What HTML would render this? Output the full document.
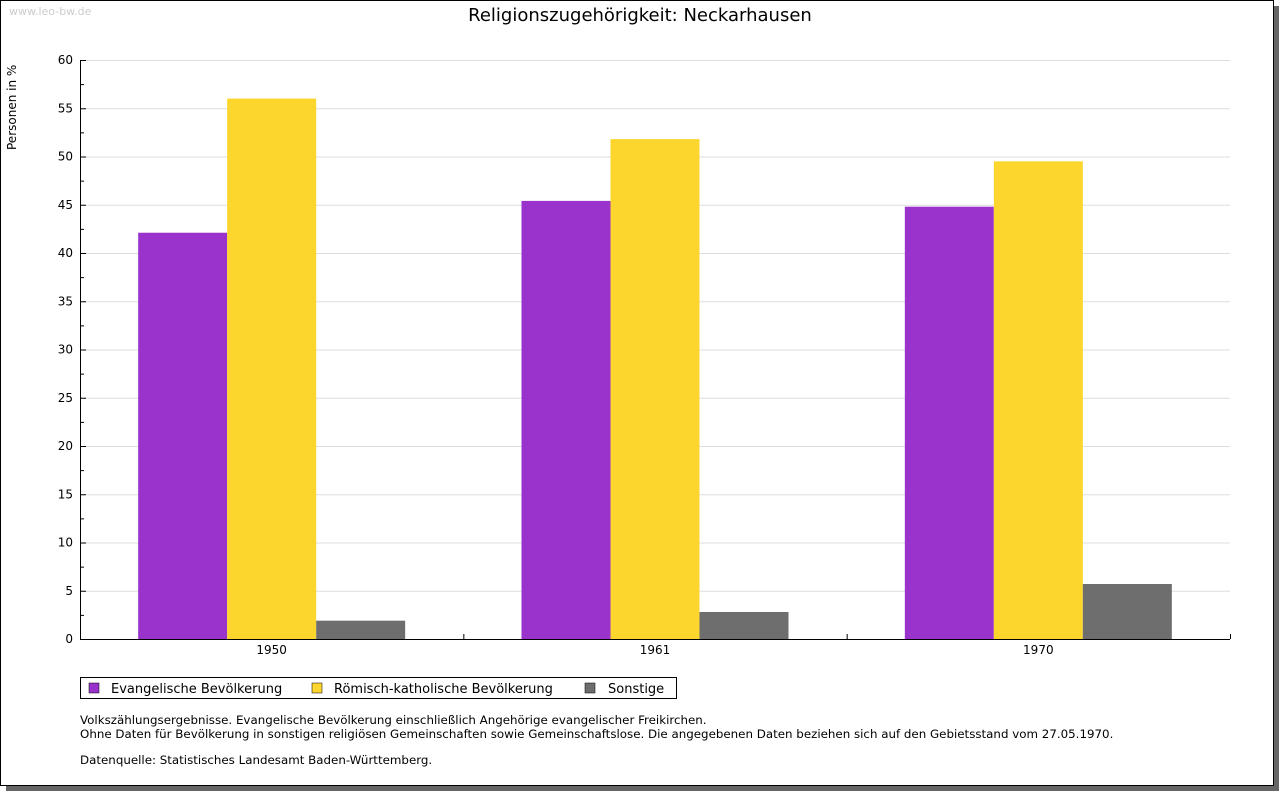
<!DOCTYPE html>
<html><head><meta charset="utf-8"><style>
body{margin:0;background:#fff;}
svg{display:block;font-family:"DejaVu Sans","Liberation Sans",sans-serif;}
</style></head><body>
<svg id="c" width="1280" height="791" xmlns="http://www.w3.org/2000/svg">
<rect x="6" y="6" width="1273" height="785" fill="#666"/>
<rect x="0.5" y="0.5" width="1273" height="785" fill="#fff" stroke="#000"/>
<text x="9" y="15" font-size="11" fill="#ccc">www.leo-bw.de</text>
<text x="640" y="21" font-size="18" text-anchor="middle">Religionszugehörigkeit: Neckarhausen</text>
<text transform="translate(16,150) rotate(-90)" font-size="12">Personen in %</text>
<g id="grid"></g><g id="bars"></g><g id="axes"></g>
<g>
<rect x="80.5" y="677.5" width="596" height="21" fill="#fff" stroke="#000"/>
<rect x="89" y="683" width="10" height="10" fill="#9933cc" stroke="#000" stroke-width="0.5"/>
<text x="111" y="693" font-size="13">Evangelische Bevölkerung</text>
<rect x="312" y="683" width="10" height="10" fill="#fcd62d" stroke="#000" stroke-width="0.5"/>
<text x="334" y="693" font-size="13">Römisch-katholische Bevölkerung</text>
<rect x="585" y="683" width="10" height="10" fill="#6e6e6e" stroke="#000" stroke-width="0.5"/>
<text x="608" y="693" font-size="13">Sonstige</text>
</g>
<g font-size="11.85">
<text x="80" y="724">Volkszählungsergebnisse. Evangelische Bevölkerung einschließlich Angehörige evangelischer Freikirchen.</text>
<text x="80" y="738">Ohne Daten für Bevölkerung in sonstigen religiösen Gemeinschaften sowie Gemeinschaftslose. Die angegebenen Daten beziehen sich auf den Gebietsstand vom 27.05.1970.</text>
<text x="80" y="764">Datenquelle: Statistisches Landesamt Baden-Württemberg.</text>
</g>
</svg>
<script>
const categories=["1950","1961","1970"];
const evangelisch=[42.1,45.4,44.8];
const katholisch=[56.0,51.8,49.5];
const sonstige=[1.9,2.8,5.7];
const yTicks=[0,5,10,15,20,25,30,35,40,45,50,55,60];
const NS="http://www.w3.org/2000/svg";
const X0=80,X1=1230,Y0=639,Y1=60,YMAX=60;
const y=v=>Y0-(v/YMAX)*(Y0-Y1);
const gw=(X1-X0)/categories.length;
const bw=gw*89/383.33, pad=(gw-3*bw)/2;
function mk(t,a,p){const e=document.createElementNS(NS,t);for(const k in a)e.setAttribute(k,a[k]);p.appendChild(e);return e;}
const grid=document.getElementById('grid'),bars=document.getElementById('bars'),axes=document.getElementById('axes');
yTicks.forEach(v=>{
  if(v>0){const l=mk('line',{x1:X0,x2:X1,y1:y(v)+0.5,y2:y(v)+0.5,stroke:'#ddd'},grid);
  
  }
  const t=mk('text',{x:X0-7,y:y(v)+4,'font-size':12,'text-anchor':'end'},axes);t.textContent=v;
  
  
  mk('line',{x1:X0,x2:X0+6,y1:y(v)+0.5,y2:y(v)+0.5,stroke:'#000'},axes);
  if(v<YMAX) mk('line',{x1:X0,x2:X0+4,y1:y(v+2.5)+0.5,y2:y(v+2.5)+0.5,stroke:'#000'},axes);
});
const series=[[evangelisch,'#9933cc','evangelisch'],[katholisch,'#fcd62d','katholisch'],[sonstige,'#6e6e6e','sonstige']];
categories.forEach((c,i)=>{
  series.forEach((s,j)=>{
    const v=s[0][i];const bx=X0+i*gw+pad+j*bw;
    const r=mk('rect',{x:bx,y:y(v),width:bw,height:Y0-y(v),fill:s[1]},bars);
    
    
  });
  const t=mk('text',{x:X0+(i+0.5)*gw,y:654,'font-size':12,'text-anchor':'middle'},axes);t.textContent=c;
  
  
  mk('line',{x1:X0+(i+1)*gw+0.5,x2:X0+(i+1)*gw+0.5,y1:Y0-5,y2:Y0,stroke:'#000'},axes);
});
const ya=mk('line',{x1:X0+0.5,x2:X0+0.5,y1:Y1,y2:Y0,stroke:'#000'},axes);


const xa=mk('line',{x1:X0,x2:X1,y1:Y0+0.5,y2:Y0+0.5,stroke:'#000'},axes);


</script>
</body></html>
